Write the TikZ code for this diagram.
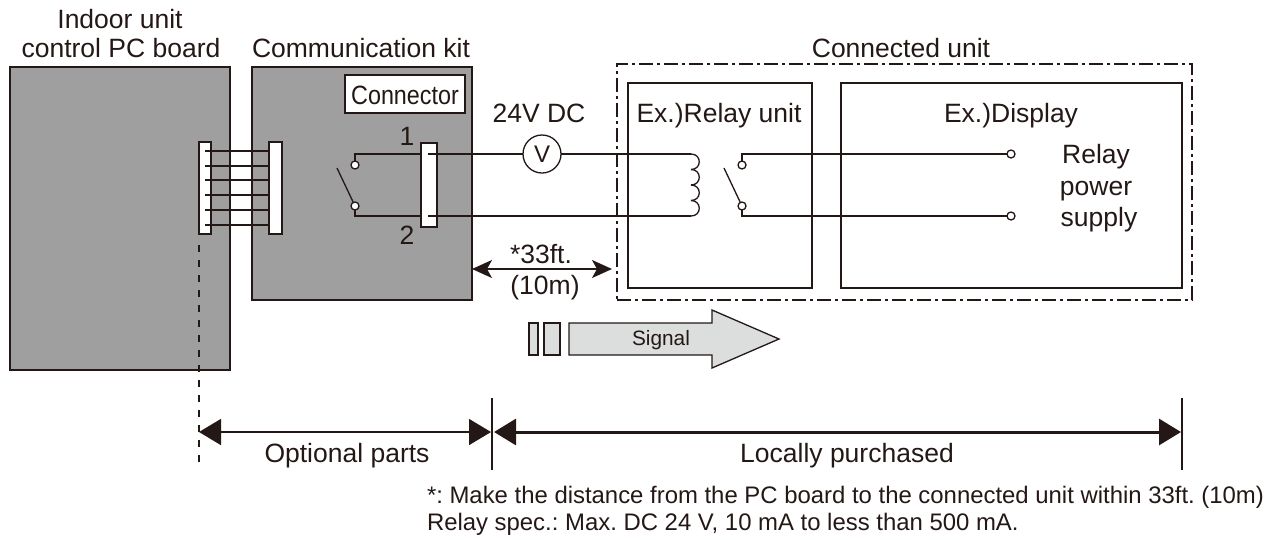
\documentclass[tikz,border=0pt]{standalone}
\usepackage{fontspec}
\setmainfont{Liberation Sans}
\newfontfamily\narrowfont[FakeStretch=0.88]{Liberation Sans}
\usetikzlibrary{arrows.meta}
\definecolor{inkdark}{HTML}{231815}
\definecolor{boardgray}{HTML}{9F9FA0}
\definecolor{signalgray}{HTML}{DCDDDD}
\frenchspacing
\tikzset{x=1pt,y=-1pt,
    every node/.style={text=inkdark,inner sep=0pt,outer sep=0pt},
    wire/.style={draw=inkdark,line width=1.3pt},
    box/.style={draw=inkdark,line width=1.3pt,anchor=north west},
    board/.style={box,fill=boardgray},
    block/.style={box,fill=white},
    terminal/.style={circle,wire,fill=white,minimum size=8pt},
    lbl/.style={font=\fontsize{26.5}{32}\selectfont,anchor=base,align=center},
    note/.style={font=\fontsize{23.9}{27}\selectfont,anchor=base west},
    span/.style={draw=inkdark,{Triangle[length=22pt,width=26pt]}-{Triangle[length=22pt,width=26pt]}}}

\begin{document}
\begin{tikzpicture}
        \useasboundingbox (0,0) rectangle (1269,539);

        \node[board,minimum width=220pt,minimum height=303pt] (pcb) at (10,67) {};
        \node[board,minimum width=220pt,minimum height=233pt] (kit) at (252,67) {};
        \node[block,minimum width=120pt,minimum height=38pt] (conbox) at (345,75) {};
        \node[block,minimum width=12pt,minimum height=92pt] (pcbcon) at (199,142) {};
        \node[block,minimum width=13pt,minimum height=92pt] (kitcon) at (269,142) {};
        \node[block,minimum width=16pt,minimum height=84pt] (outcon) at (421,143) {};
        \node[box,minimum width=184pt,minimum height=205pt] (relay) at (628,83) {};
        \node[box,minimum width=341pt,minimum height=205pt] (display) at (841,83) {};
        \node[box,dash pattern=on 14pt off 4pt on 3pt off 4pt,minimum width=575pt,minimum height=236pt] (unit) at (617,64) {};

        % ribbon between the two boards
        \foreach \i/\y in {1/151,2/166,3/180,4/195,5/210,6/225} {
            \coordinate (ra\i) at (205,\y);
            \coordinate (rb\i) at (270,\y);
            \draw[wire] (ra\i) -- (rb\i);
        }

        \node[terminal] (sa) at (355,165) {};
        \node[terminal] (sb) at (355,206) {};
        \node[terminal] (ta) at (742,165) {};
        \node[terminal] (tb) at (742,206) {};
        \node[terminal] (ea) at (1011,154) {};
        \node[terminal] (eb) at (1011,216) {};
        \node[circle,wire,fill=white,minimum size=38pt,font=\fontsize{24}{26}\selectfont] (volt) at (542,154) {V};

        \coordinate (pin1) at (428,154);
        \coordinate (pin2) at (428,216);
        \coordinate (sacor) at (355,154);
        \coordinate (sbcor) at (355,216);
        \coordinate (tacor) at (742,154);
        \coordinate (tbcor) at (742,216);
        \coordinate (sfree) at (337,168);
        \coordinate (tfree) at (724,168);
        \coordinate (cl0) at (691,154);
        \coordinate (cl1) at (691,169.5);
        \coordinate (cl2) at (691,185);
        \coordinate (cl3) at (691,200.5);
        \coordinate (cl4) at (691,216);

        \draw[wire] (sa) -- (sacor) -- (outcon.west |- sacor);
        \draw[wire] (sb) -- (sbcor) -- (outcon.west |- sbcor);
        \draw[wire] (pin1) -- (volt);
        \draw[wire] (volt) -- (cl0);
        \draw[wire] (pin2) -- (cl4);
        \draw[wire] (ta) -- (tacor) -- (ea);
        \draw[wire] (tb) -- (tbcor) -- (eb);
        \draw[wire] (sfree) -- (sb);
        \draw[wire] (tfree) -- (tb);
        \foreach \a/\b in {0/1,1/2,2/3,3/4} {
            \draw[wire] (cl\a) .. controls +(11,0) and +(11,0) .. (cl\b);
        }

        \coordinate (dashstart) at (199,245);
        \coordinate (dashend) at (199,462);
        \draw[draw=inkdark,line width=1.3pt,dash pattern=on 7pt off 8pt] (dashstart) -- (dashend);

        \coordinate (lim1t) at (492,398);
        \coordinate (lim1b) at (492,470);
        \coordinate (lim2t) at (1182,398);
        \coordinate (lim2b) at (1182,470);
        \draw[wire] (lim1t) -- (lim1b);
        \draw[wire] (lim2t) -- (lim2b);
        \coordinate (optl) at (199,432);
        \coordinate (optr) at (491,432);
        \coordinate (locl) at (494,432);
        \coordinate (locr) at (1181,432);
        \draw[span,line width=1.6pt] (optl) -- (optr);
        \draw[span,line width=3pt] (locl) -- (locr);
        \coordinate (lenl) at (472,269);
        \coordinate (lenr) at (612,269);
        \draw[draw=inkdark,line width=1.6pt,{Stealth[length=20pt,width=18pt,inset=5pt]}-{Stealth[length=20pt,width=18pt,inset=5pt]}] (lenl) -- (lenr);

        % signal arrow
        \node[box,fill=signalgray,minimum width=9pt,minimum height=32pt] (sig1) at (529,323) {};
        \node[box,fill=signalgray,minimum width=16pt,minimum height=32pt] (sig2) at (544,323) {};
        \draw[wire,fill=signalgray] (569,323) -- (712,323) -- (712,310) -- (779,339) -- (712,368) -- (712,355) -- (569,355) -- cycle;

        \node[lbl] (tpcb) at (120,28) {Indoor unit};
        \node[lbl] (tpcb2) at (121,57) {control PC board};
        \node[lbl] (tkit) at (361,57) {Communication kit};
        \node[lbl] (tunit) at (901,57) {Connected unit};
        \node[lbl,font=\fontsize{26.5}{32}\narrowfont] (tcon) at (405,104) {Connector};
        \node[lbl] (one) at (407,145) {1};
        \node[lbl] (two) at (407,244) {2};
        \node[lbl] (tdc) at (539,122) {24V DC};
        \node[lbl] (trelay) at (719,122) {Ex.)Relay unit};
        \node[lbl] (tdisp) at (1011,122) {Ex.)Display};
        \node[lbl] (tr1) at (1096,163) {Relay};
        \node[lbl] (tr2) at (1096,195) {power};
        \node[lbl] (tr3) at (1099,226) {supply};
        \node[lbl] (tlen) at (541,263) {*33ft.};
        \node[lbl] (tlen2) at (545,294) {(10m)};
        \node[lbl,font=\fontsize{20.8}{24}\selectfont] (tsig) at (661,345) {Signal};
        \node[lbl] (topt) at (347,462) {Optional parts};
        \node[lbl] (tloc) at (847,462) {Locally purchased};
        \node[note] (n1) at (427,503) {*: Make the distance from the PC board to the connected unit within 33ft. (10m)};
        \node[note] (n2) at (427,530) {Relay spec.: Max. DC 24 V, 10 mA to less than 500 mA.};
    \end{tikzpicture}
\end{document}
